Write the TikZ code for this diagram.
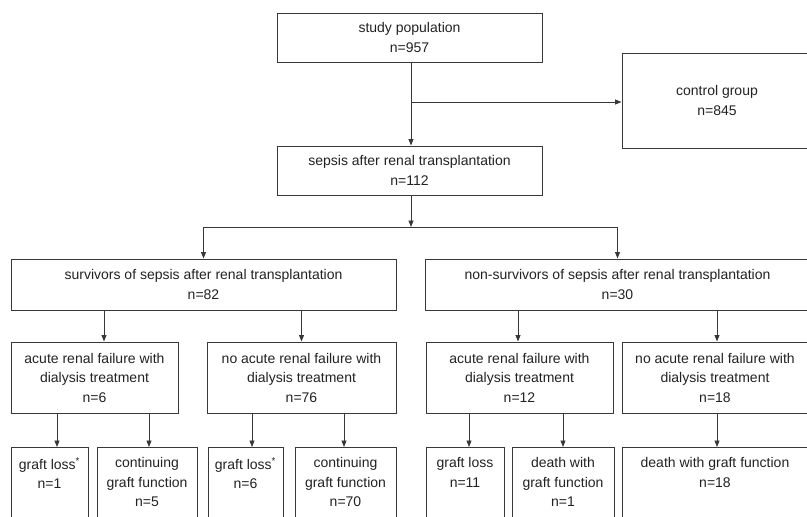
\documentclass[tikz,border=0pt]{standalone}
\usepackage{fontspec}
\setmainfont{Liberation Sans}
\usepackage{xcolor}
\usepackage{tikz}
\usetikzlibrary{arrows.meta}
\definecolor{linecolor}{HTML}{383838}
\definecolor{textcolor}{HTML}{222222}

\begin{document}
\begin{tikzpicture}[
    x=1pt, y=-1pt,
    box/.style={rectangle, draw=linecolor, line width=1pt,
                inner sep=0pt, align=center, text=textcolor,
                font=\fontsize{14}{20}\selectfont},
    midbox/.style={box, font=\fontsize{14}{19.5}\selectfont},
    leaf/.style={box, anchor=north, inner ysep=10pt, text depth=80pt,
                 font=\fontsize{14}{19.5}\selectfont},
    arrow/.style={draw=linecolor, line width=0.8pt,
                  -{Triangle[length=6.5pt, width=5pt]}},
    line/.style={draw=linecolor, line width=0.8pt}
]
\useasboundingbox (0,0) rectangle (807,517);

\node[box, minimum width=265, minimum height=49] (study) at (409.5,37.5)
    {study population\\n=957};
\node[box, minimum width=190, minimum height=95] (control) at (717,100.5)
    {control group\\n=845};
\node[box, minimum width=265, minimum height=49] (sepsis) at (409.5,170.5)
    {sepsis after renal transplantation\\n=112};

\node[box, minimum width=385, minimum height=51] (surv) at (203.5,284.5)
    {survivors of sepsis after renal transplantation\\n=82};
\node[box, minimum width=385, minimum height=51] (nonsurv) at (617.5,284.5)
    {non-survivors of sepsis after renal transplantation\\n=30};

\node[midbox, minimum width=167, minimum height=71] (arfS) at (94.5,377.5)
    {acute renal failure with\\dialysis treatment\\n=6};
\node[midbox, minimum width=189, minimum height=71] (noarfS) at (301.5,377.5)
    {no acute renal failure with\\dialysis treatment\\n=76};
\node[midbox, minimum width=187, minimum height=71] (arfN) at (519.5,377.5)
    {acute renal failure with\\dialysis treatment\\n=12};
\node[midbox, minimum width=186, minimum height=71] (noarfN) at (715,377.5)
    {no acute renal failure with\\dialysis treatment\\n=18};

\node[leaf, minimum width=77] (lossA) at (49.5,447)
    {graft loss\textsuperscript{*}\\n=1};
\node[leaf, minimum width=100] (contA) at (147,447)
    {continuing\\graft function\\n=5};
\node[leaf, minimum width=75] (lossB) at (245.5,447)
    {graft loss\textsuperscript{*}\\n=6};
\node[leaf, minimum width=101] (contB) at (345.5,447)
    {continuing\\graft function\\n=70};
\node[leaf, minimum width=78] (lossC) at (465,447)
    {graft loss\\n=11};
\node[leaf, minimum width=102] (deathA) at (563,447)
    {death with\\graft function\\n=1};
\node[leaf, minimum width=186] (deathB) at (715,447)
    {death with graft function\\n=18};

\coordinate (excl) at (411,102);
\coordinate (split) at (411,227);

\draw[arrow] (study.south -| excl) -- (sepsis.north -| excl);
\draw[arrow] (excl) -- (control.west |- excl);
\draw[arrow] (sepsis.south -| split) -- (split);
\draw[line] (surv.north |- split) -- (nonsurv.north |- split);
\draw[arrow] (surv.north |- split) -- (surv.north);
\draw[arrow] (nonsurv.north |- split) -- (nonsurv.north);

\draw[arrow] ([xshift=9.5pt]arfS.north |- surv.south) -- ([xshift=9.5pt]arfS.north);
\draw[arrow] (noarfS.north |- surv.south) -- (noarfS.north);
\draw[arrow] ([xshift=-1.5pt]arfN.north |- nonsurv.south) -- ([xshift=-1.5pt]arfN.north);
\draw[arrow] ([xshift=2pt]noarfN.north |- nonsurv.south) -- ([xshift=2pt]noarfN.north);

\draw[arrow] ([xshift=7.5pt]lossA.north |- arfS.south) -- ([xshift=7.5pt]lossA.north);
\draw[arrow] ([xshift=2pt]contA.north |- arfS.south) -- ([xshift=2pt]contA.north);
\draw[arrow] ([xshift=6.5pt]lossB.north |- noarfS.south) -- ([xshift=6.5pt]lossB.north);
\draw[arrow] ([xshift=-1.5pt]contB.north |- noarfS.south) -- ([xshift=-1.5pt]contB.north);
\draw[arrow] ([xshift=4pt]lossC.north |- arfN.south) -- ([xshift=4pt]lossC.north);
\draw[arrow] (deathA.north |- arfN.south) -- (deathA.north);
\draw[arrow] ([xshift=2pt]deathB.north |- noarfN.south) -- ([xshift=2pt]deathB.north);
\end{tikzpicture}
\end{document}
